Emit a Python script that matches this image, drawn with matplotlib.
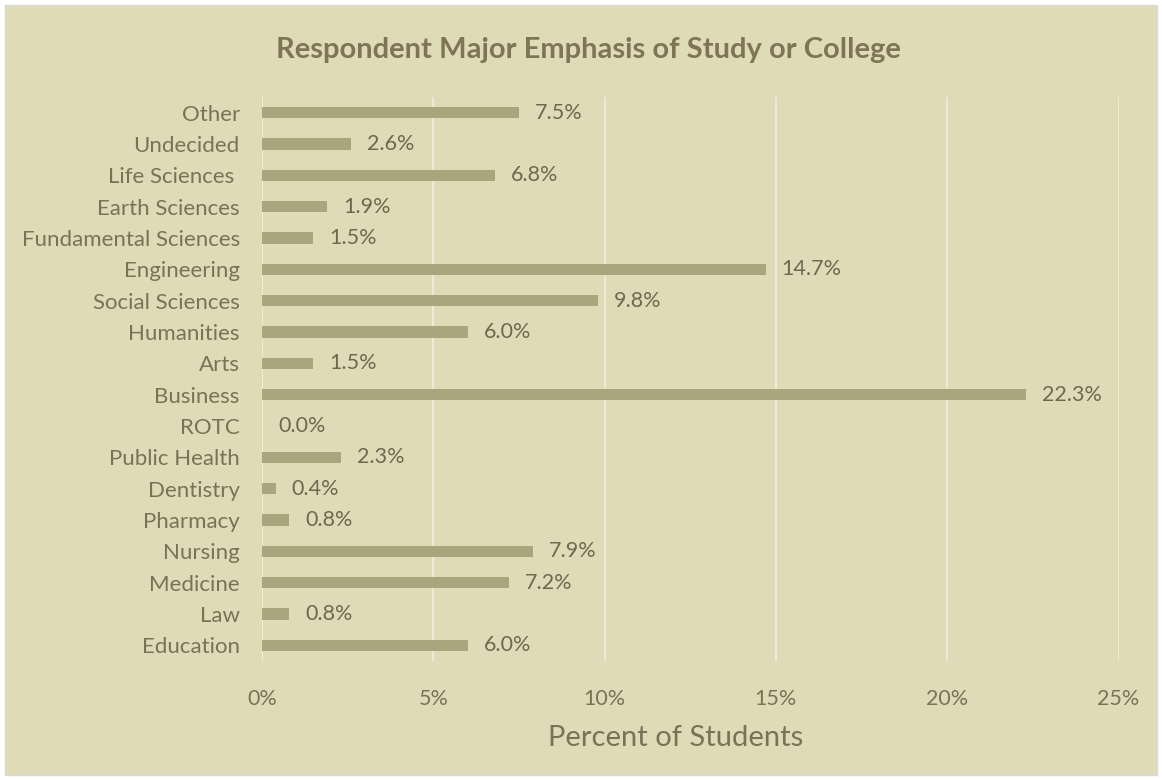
import matplotlib.pyplot as plt
from matplotlib.patches import Rectangle

categories = ["Education", "Law", "Medicine", "Nursing", "Pharmacy", "Dentistry",
              "Public Health", "ROTC", "Business", "Arts", "Humanities",
              "Social Sciences", "Engineering", "Fundamental Sciences",
              "Earth Sciences", "Life Sciences ", "Undecided", "Other"]
percents = [6.0, 0.8, 7.2, 7.9, 0.8, 0.4, 2.3, 0.0, 22.3, 1.5, 6.0,
            9.8, 14.7, 1.5, 1.9, 6.8, 2.6, 7.5]
xticks = [0, 5, 10, 15, 20, 25]

bg = "#E0DBB7"
bar_color = "#A9A57C"
text_color = "#7A7256"

plt.rcParams['font.family'] = ['Lato', 'DejaVu Sans']

fig = plt.figure(figsize=(11.62, 7.8), dpi=100)
fig.patch.set_facecolor("white")
fig.patches.append(Rectangle((5 / 1162, 5 / 780), 1152 / 1162, 770 / 780,
                             transform=fig.transFigure, facecolor=bg,
                             edgecolor="#D9D9D9", linewidth=1, zorder=-1))

ax = fig.add_axes([262 / 1162, 1 - 661 / 780, 856.5 / 1162, 564 / 780])
ax.patch.set_alpha(0)

y = list(range(len(categories)))
ax.barh(y, percents, height=0.36, color=bar_color, zorder=3)
for yi, v in zip(y, percents):
    ax.annotate(f"{v:.1f}%", (v, yi), xytext=(11.5, 0), textcoords="offset points",
                va="center", ha="left", fontsize=15.5, color="#6E6850")

ax.set_xlim(0, 25)
ax.set_ylim(-0.5, len(categories) - 0.5)
ax.set_yticks(y)
ax.set_yticklabels(categories, fontsize=16, color=text_color)
ax.set_xticks(xticks)
ax.set_xticklabels([f"{t}%" for t in xticks], fontsize=15.5, color=text_color)
ax.tick_params(length=0)
ax.tick_params(axis="y", pad=16)
ax.tick_params(axis="x", pad=20)
ax.grid(axis="x", color="#EFEDDC", linewidth=1.3, zorder=0)
for s in ax.spines.values():
    s.set_visible(False)
ax.axvline(0, color="#EFEDDC", linewidth=1.3, zorder=1)

ax.set_xlabel("Percent of Students", fontsize=21, color=text_color)
ax.xaxis.set_label_coords(0.483, -0.113)
fig.text(588 / 1162, 1 - 50 / 780, "Respondent Major Emphasis of Study or College",
         ha="center", va="center", fontsize=21, fontweight="bold", color="#7F7556")

fig.savefig("out.png", dpi=100, facecolor=fig.get_facecolor())
